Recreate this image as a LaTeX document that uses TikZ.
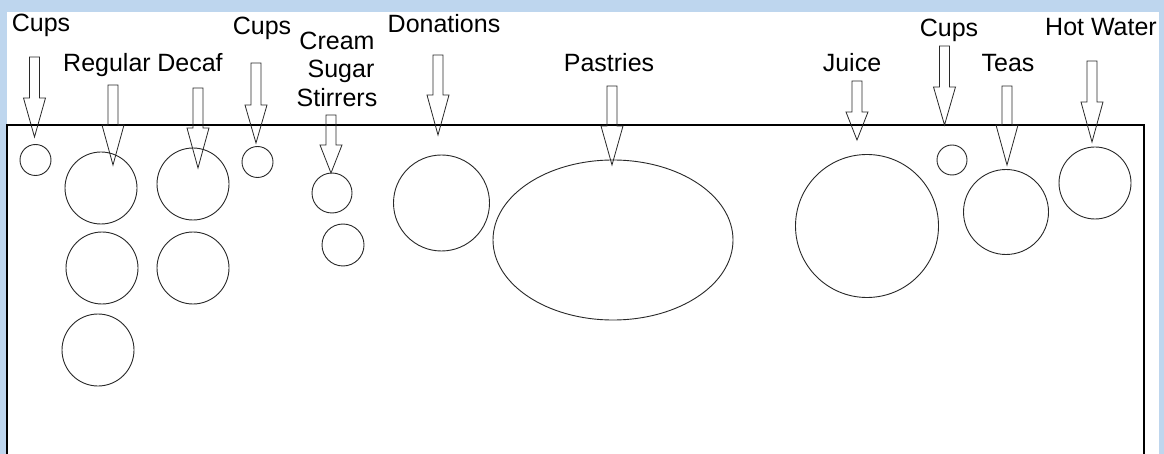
\documentclass[tikz,border=0pt]{standalone}
\usepackage{fontspec}
\setmainfont{Liberation Sans}
\usepackage{tikz}
\usetikzlibrary{shapes.geometric}
\definecolor{framebg}{RGB}{190,214,238}
\definecolor{inkgray}{RGB}{40,40,40}
\tikzset{
  lbl/.style={anchor=base, inner sep=0pt, font=\fontsize{25}{28.5}\selectfont},
  bowl/.style={circle, draw=inkgray, line width=0.9pt, inner sep=0pt, minimum size=#1},
  arrowline/.style={draw=inkgray, line width=0.8pt, line join=miter},
  tableedge/.style={draw=black, line width=1.4pt}
}
% hollow arrow pointing down: x, top, head start, tip
\newcommand{\dropArrow}[4]{%
  \draw[arrowline] (#1-5,#2) -- (#1+5,#2) -- (#1+5,#3) -- (#1+11,#3)
    -- (#1,#4) -- (#1-11,#3) -- (#1-5,#3) -- cycle;}

\begin{document}
\begin{tikzpicture}[x=1pt, y=-1pt]
  \useasboundingbox (0,0) rectangle (1164,454);
  \fill[framebg] (0,0) rectangle (1164,454);
  \fill[white] (7,12) rectangle (1159,454);

  % Table edge
  \draw[tableedge] (7,454) -- (7,125) -- (1144,125) -- (1144,454);

  % Labels
  \node[lbl] (cupsA) at (41,32) {Cups};
  \node[lbl] (regular) at (107,72) {Regular};
  \node[lbl] (decaf) at (190,72) {Decaf};
  \node[lbl] (cupsB) at (262,35) {Cups};
  \node[lbl] (cream) at (337,50) {Cream};
  \node[lbl] (sugar) at (341,78) {Sugar};
  \node[lbl] (stirrers) at (337,107) {Stirrers};
  \node[lbl] (donations) at (444,33) {Donations};
  \node[lbl] (pastries) at (609,72) {Pastries};
  \node[lbl] (juice) at (852,72) {Juice};
  \node[lbl] (cupsC) at (949,37) {Cups};
  \node[lbl] (teas) at (1008,72) {Teas};
  \node[lbl] (hotwater) at (1101,36) {Hot Water};

  % Arrows
  \dropArrow{34.5}{57}{98}{137}
  \dropArrow{113}{85}{125}{165}
  \dropArrow{198}{88}{128}{168}
  \dropArrow{256}{63}{105}{143}
  \dropArrow{331}{115}{145}{173}
  \dropArrow{438}{55}{95}{135}
  \dropArrow{612}{86}{126}{165}
  \dropArrow{857}{81}{112}{140}
  \dropArrow{944.5}{46}{87}{125}
  \dropArrow{1007}{86}{125}{165}
  \dropArrow{1092}{61}{102}{142}

  % Items on the table
  \node[bowl=31pt] (cupA) at (35.5,160) {};
  \node[bowl=72pt] (regA) at (101,188) {};
  \node[bowl=72pt] (regB) at (102,268) {};
  \node[bowl=72pt] (regC) at (98,350) {};
  \node[bowl=72pt] (decA) at (193,184) {};
  \node[bowl=72pt] (decB) at (193,268) {};
  \node[bowl=31pt] (cupB) at (257.5,162) {};
  \node[bowl=40pt] (creamjar) at (332,193) {};
  \node[bowl=42pt] (sugarjar) at (343,245) {};
  \node[bowl=96pt] (donbox) at (441.5,203) {};
  \node[ellipse, draw=inkgray, line width=0.9pt, inner sep=0pt,
        minimum width=240pt, minimum height=160pt] (tray) at (613,240) {};
  \node[bowl=143pt] (juicejug) at (867,226) {};
  \node[bowl=30pt] (cupC) at (952,160) {};
  \node[bowl=85pt] (teabox) at (1006,212) {};
  \node[bowl=72pt] (urn) at (1095,183) {};
\end{tikzpicture}
\end{document}
